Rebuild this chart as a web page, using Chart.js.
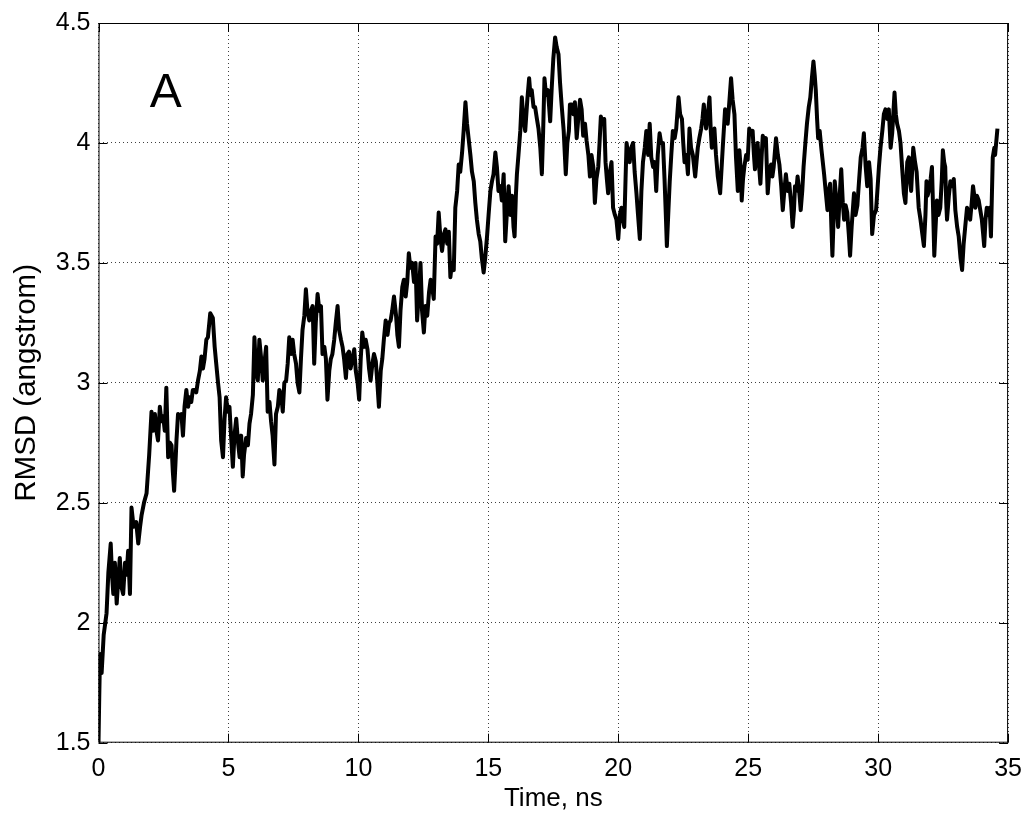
<!DOCTYPE html>
<html>
<head>
<meta charset="utf-8">
<script src="https://cdn.jsdelivr.net/npm/chart.js@4.4.1/dist/chart.umd.min.js"></script>
<style>
  html, body { margin: 0; padding: 0; background: #fff; }
  #wrap { width: 1033px; height: 816px; }
</style>
</head>
<body>
<div id="wrap"><canvas id="rmsdChart" width="1033" height="816"></canvas></div>
<script>
// RMSD trace, panel A

let timeNs = [
  0.00, 0.03, 0.06, 0.12, 0.20, 0.31, 0.38, 0.47, 0.52, 0.57,
  0.63, 0.70, 0.76, 0.82, 0.88, 0.95, 1.02, 1.08, 1.14, 1.21,
  1.27, 1.35, 1.45, 1.53, 1.60, 1.66, 1.75, 1.85, 1.95, 2.04,
  2.10, 2.17, 2.23, 2.29, 2.36, 2.42, 2.49, 2.55, 2.61, 2.68,
  2.75, 2.81, 2.86, 2.91, 2.96, 3.00, 3.06, 3.12, 3.19, 3.25,
  3.31, 3.38, 3.45, 3.50, 3.57, 3.63, 3.70, 3.76, 3.83, 3.90,
  3.96, 4.02, 4.08, 4.15, 4.21, 4.30, 4.40, 4.47, 4.53, 4.60,
  4.66, 4.72, 4.79, 4.85, 4.91, 4.97, 5.04, 5.10, 5.17, 5.23,
  5.30, 5.37, 5.43, 5.49, 5.55, 5.60, 5.68, 5.75, 5.81, 5.87,
  5.94, 6.00, 6.06, 6.13, 6.19, 6.26, 6.32, 6.38, 6.45, 6.51,
  6.58, 6.64, 6.70, 6.77, 6.83, 6.90, 6.96, 7.03, 7.09, 7.15,
  7.22, 7.28, 7.34, 7.41, 7.47, 7.53, 7.60, 7.66, 7.73, 7.79,
  7.85, 7.92, 7.98, 8.04, 8.11, 8.17, 8.24, 8.30, 8.36, 8.43,
  8.50, 8.56, 8.62, 8.69, 8.75, 8.81, 8.88, 8.94, 9.00, 9.07,
  9.13, 9.20, 9.26, 9.33, 9.39, 9.45, 9.52, 9.58, 9.64, 9.70,
  9.77, 9.84, 9.90, 9.97, 10.03, 10.09, 10.15, 10.22, 10.28, 10.35,
  10.41, 10.47, 10.54, 10.60, 10.67, 10.73, 10.79, 10.86, 10.92, 10.98,
  11.05, 11.12, 11.18, 11.24, 11.30, 11.37, 11.45, 11.50, 11.56, 11.62,
  11.69, 11.75, 11.82, 11.88, 11.94, 12.00, 12.07, 12.14, 12.20, 12.26,
  12.33, 12.39, 12.45, 12.52, 12.58, 12.65, 12.72, 12.78, 12.84, 12.90,
  12.97, 13.03, 13.09, 13.16, 13.22, 13.29, 13.35, 13.42, 13.48, 13.54,
  13.60, 13.67, 13.73, 13.80, 13.86, 13.92, 13.99, 14.05, 14.12, 14.18,
  14.24, 14.31, 14.37, 14.44, 14.50, 14.56, 14.63, 14.69, 14.75, 14.82,
  14.88, 14.95, 15.01, 15.08, 15.14, 15.20, 15.27, 15.33, 15.39, 15.46,
  15.52, 15.59, 15.65, 15.72, 15.78, 15.85, 15.91, 15.97, 16.01, 16.06,
  16.10, 16.16, 16.23, 16.29, 16.35, 16.42, 16.50, 16.57, 16.62, 16.67,
  16.74, 16.80, 16.87, 16.93, 17.00, 17.06, 17.11, 17.16, 17.22, 17.29,
  17.34, 17.38, 17.44, 17.50, 17.57, 17.63, 17.70, 17.76, 17.82, 17.90,
  17.98, 18.04, 18.10, 18.14, 18.21, 18.27, 18.33, 18.40, 18.46, 18.53,
  18.59, 18.65, 18.72, 18.78, 18.85, 18.91, 18.97, 19.04, 19.10, 19.16,
  19.23, 19.28, 19.33, 19.40, 19.46, 19.51, 19.56, 19.61, 19.68, 19.74,
  19.80, 19.87, 19.93, 20.00, 20.06, 20.12, 20.18, 20.23, 20.28, 20.32,
  20.38, 20.44, 20.50, 20.57, 20.63, 20.70, 20.76, 20.83, 20.89, 20.95,
  21.02, 21.08, 21.15, 21.21, 21.27, 21.34, 21.40, 21.46, 21.52, 21.59,
  21.65, 21.72, 21.78, 21.83, 21.87, 21.93, 21.98, 22.04, 22.10, 22.17,
  22.23, 22.32, 22.38, 22.45, 22.50, 22.55, 22.62, 22.68, 22.74, 22.80,
  22.87, 22.96, 23.01, 23.06, 23.12, 23.19, 23.24, 23.29, 23.38, 23.45,
  23.51, 23.56, 23.60, 23.70, 23.76, 23.83, 23.92, 24.02, 24.11, 24.21,
  24.28, 24.34, 24.40, 24.47, 24.53, 24.60, 24.66, 24.72, 24.75, 24.80,
  24.85, 24.92, 24.98, 25.04, 25.10, 25.17, 25.22, 25.26, 25.31, 25.36,
  25.42, 25.47, 25.52, 25.56, 25.62, 25.68, 25.75, 25.81, 25.88, 25.93,
  25.98, 26.07, 26.14, 26.20, 26.27, 26.33, 26.39, 26.45, 26.52, 26.58,
  26.65, 26.71, 26.76, 26.80, 26.85, 26.90, 26.96, 27.02, 27.08, 27.13,
  27.20, 27.26, 27.33, 27.39, 27.45, 27.51, 27.56, 27.60, 27.65, 27.69,
  27.75, 27.82, 27.87, 27.92, 27.98, 28.05, 28.10, 28.15, 28.20, 28.24,
  28.29, 28.33, 28.40, 28.46, 28.52, 28.58, 28.64, 28.69, 28.75, 28.81,
  28.87, 28.92, 28.98, 29.07, 29.13, 29.20, 29.27, 29.33, 29.40, 29.45,
  29.52, 29.58, 29.65, 29.71, 29.77, 29.84, 29.92, 29.97, 30.03, 30.09,
  30.16, 30.22, 30.28, 30.35, 30.41, 30.48, 30.54, 30.63, 30.68, 30.73,
  30.80, 30.86, 30.92, 30.99, 31.05, 31.12, 31.18, 31.22, 31.27, 31.35,
  31.42, 31.48, 31.56, 31.63, 31.70, 31.76, 31.82, 31.86, 31.90, 31.95,
  32.02, 32.07, 32.12, 32.16, 32.21, 32.26, 32.32, 32.39, 32.45, 32.49,
  32.54, 32.58, 32.62, 32.65, 32.72, 32.78, 32.85, 32.91, 32.97, 33.04,
  33.10, 33.17, 33.23, 33.29, 33.35, 33.42, 33.48, 33.54, 33.60, 33.65,
  33.70, 33.74, 33.80, 33.87, 33.93, 33.99, 34.04, 34.08, 34.13, 34.18,
  34.24, 34.29, 34.34, 34.41, 34.47, 34.50, 34.59
];

let rmsdA = [
  1.50, 1.70, 1.87, 1.79, 1.95, 2.04, 2.21, 2.33, 2.20, 2.12,
  2.25, 2.08, 2.18, 2.27, 2.15, 2.12, 2.25, 2.20, 2.30, 2.12,
  2.48, 2.40, 2.42, 2.33, 2.40, 2.45, 2.50, 2.54, 2.70, 2.88,
  2.80, 2.87, 2.80, 2.76, 2.90, 2.84, 2.86, 2.80, 2.98, 2.69,
  2.75, 2.74, 2.63, 2.55, 2.66, 2.76, 2.87, 2.86, 2.87, 2.78,
  2.90, 2.97, 2.90, 2.94, 2.92, 2.97, 2.97, 2.96, 3.01, 3.05,
  3.11, 3.06, 3.10, 3.18, 3.19, 3.29, 3.27, 3.15, 3.08, 3.00,
  2.94, 2.76, 2.69, 2.85, 2.94, 2.88, 2.90, 2.78, 2.65, 2.78,
  2.85, 2.75, 2.69, 2.78, 2.61, 2.70, 2.77, 2.74, 2.83, 2.87,
  2.95, 3.19, 3.05, 3.01, 3.18, 3.10, 3.01, 3.08, 3.15, 2.88,
  2.92, 2.84, 2.78, 2.66, 2.87, 2.90, 2.97, 2.95, 2.88, 3.00,
  3.01, 3.08, 3.19, 3.12, 3.18, 3.12, 3.08, 3.00, 2.96, 3.10,
  3.22, 3.28, 3.39, 3.30, 3.26, 3.30, 3.32, 3.08, 3.25, 3.37,
  3.30, 3.32, 3.12, 3.15, 3.10, 2.93, 3.05, 3.10, 3.12, 3.18,
  3.25, 3.32, 3.22, 3.18, 3.15, 3.10, 3.02, 3.12, 3.13, 3.06,
  3.10, 3.14, 3.05, 3.00, 2.93, 3.10, 3.21, 3.15, 3.18, 3.14,
  3.06, 3.01, 3.08, 3.12, 3.09, 3.00, 2.90, 3.05, 3.10, 3.18,
  3.26, 3.20, 3.25, 3.26, 3.30, 3.36, 3.28, 3.20, 3.15, 3.30,
  3.40, 3.43, 3.36, 3.42, 3.54, 3.48, 3.50, 3.42, 3.50, 3.26,
  3.38, 3.50, 3.30, 3.21, 3.32, 3.28, 3.38, 3.43, 3.40, 3.35,
  3.61, 3.58, 3.71, 3.60, 3.55, 3.62, 3.64, 3.58, 3.63, 3.44,
  3.50, 3.47, 3.73, 3.80, 3.91, 3.88, 3.96, 4.05, 4.17, 4.08,
  4.02, 3.95, 3.88, 3.84, 3.75, 3.68, 3.62, 3.59, 3.52, 3.46,
  3.52, 3.61, 3.70, 3.80, 3.84, 3.87, 3.96, 3.90, 3.80, 3.82,
  3.76, 3.87, 3.59, 3.72, 3.82, 3.70, 3.78, 3.65, 3.61, 3.78,
  3.87, 3.95, 4.05, 4.19, 4.10, 4.05, 4.18, 4.27, 4.20, 4.22,
  4.15, 4.15, 4.10, 4.06, 3.98, 3.87, 4.05, 4.27, 4.20, 4.22,
  4.15, 4.09, 4.23, 4.35, 4.44, 4.40, 4.37, 4.25, 4.16, 4.05,
  3.87, 4.00, 4.05, 4.16, 4.16, 4.12, 4.17, 4.02, 4.10, 4.18,
  4.14, 4.03, 4.08, 4.01, 3.95, 3.86, 3.95, 3.90, 3.75, 3.85,
  3.90, 4.00, 4.11, 4.08, 4.10, 3.92, 3.85, 3.79, 3.88, 3.92,
  3.73, 3.70, 3.68, 3.60, 3.70, 3.73, 3.68, 3.65, 3.85, 4.00,
  3.95, 3.92, 3.98, 4.00, 3.88, 3.79, 3.70, 3.60, 3.80, 3.92,
  3.98, 4.05, 3.95, 4.08, 3.94, 3.90, 3.92, 3.80, 3.95, 4.04,
  4.00, 4.00, 3.85, 3.70, 3.57, 3.72, 3.84, 3.95, 4.05, 4.02,
  4.06, 4.19, 4.12, 4.10, 4.00, 3.92, 3.95, 3.87, 4.06, 3.98,
  3.95, 3.86, 3.92, 3.98, 4.02, 4.06, 4.10, 4.16, 4.06, 4.12,
  4.19, 4.05, 3.98, 4.06, 3.95, 3.86, 3.79, 3.98, 4.14, 4.08,
  4.18, 4.27, 4.18, 4.12, 3.94, 3.80, 3.97, 3.88, 3.76, 3.85,
  3.90, 3.95, 3.93, 4.06, 4.04, 4.05, 3.95, 3.89, 3.95, 4.00,
  3.90, 3.83, 3.95, 4.03, 4.00, 4.02, 3.79, 3.88, 3.91, 3.86,
  3.90, 4.02, 3.95, 3.91, 3.82, 3.72, 3.80, 3.87, 3.80, 3.83,
  3.75, 3.65, 3.72, 3.82, 3.80, 3.86, 3.80, 3.72, 3.80, 3.90,
  4.00, 4.08, 4.15, 4.19, 4.27, 4.34, 4.28, 4.22, 4.10, 4.02,
  4.05, 3.97, 3.92, 3.87, 3.80, 3.72, 3.80, 3.83, 3.65, 3.53,
  3.70, 3.84, 3.75, 3.65, 3.78, 3.89, 3.75, 3.68, 3.74, 3.71,
  3.62, 3.53, 3.65, 3.79, 3.70, 3.74, 3.85, 3.94, 3.98, 4.04,
  3.90, 3.82, 3.92, 3.85, 3.62, 3.70, 3.72, 3.80, 3.90, 3.98,
  4.05, 4.12, 4.14, 4.10, 4.14, 3.98, 4.04, 4.21, 4.12, 4.08,
  4.05, 4.00, 3.90, 3.79, 3.75, 3.92, 3.94, 3.85, 3.80, 3.98,
  3.92, 3.88, 3.73, 3.68, 3.62, 3.57, 3.70, 3.84, 3.78, 3.80,
  3.85, 3.90, 3.70, 3.53, 3.65, 3.76, 3.70, 3.73, 3.85, 3.97,
  3.92, 3.90, 3.75, 3.68, 3.78, 3.84, 3.82, 3.85, 3.72, 3.65,
  3.61, 3.52, 3.47, 3.58, 3.65, 3.73, 3.70, 3.68, 3.75, 3.82,
  3.78, 3.73, 3.78, 3.76, 3.72, 3.68, 3.62, 3.57, 3.68, 3.73,
  3.70, 3.73, 3.61, 3.94, 3.98, 3.95, 4.06
];

let xTicks = [0, 5, 10, 15, 20, 25, 30, 35];
let yTicks = [1.5, 2, 2.5, 3, 3.5, 4, 4.5];
let xTitle = 'Time, ns';
let yTitle = 'RMSD (angstrom)';
let panelLabel = 'A';

const fontFace = "'Liberation Sans', Arial, Helvetica, sans-serif";

// matlab style box: frame all round + short inward ticks + panel letter
const matlabBox = {
    id: 'matlabBox',
    afterDraw(chart) {
        const {ctx, chartArea: a, scales} = chart;
        const tl = 9;
        ctx.save();
        ctx.strokeStyle = '#000';
        ctx.lineWidth = 1;
        ctx.strokeRect(a.left + 0.5, a.top + 0.5, a.right - a.left - 1, a.bottom - a.top - 1);
        ctx.beginPath();
        xTicks.forEach(v => {
            const px = Math.round(scales.x.getPixelForValue(v)) + 0.5;
            ctx.moveTo(px, a.bottom); ctx.lineTo(px, a.bottom - tl);
            ctx.moveTo(px, a.top); ctx.lineTo(px, a.top + tl);
        });
        yTicks.forEach(v => {
            const py = Math.round(scales.y.getPixelForValue(v)) + 0.5;
            ctx.moveTo(a.left, py); ctx.lineTo(a.left + tl, py);
            ctx.moveTo(a.right, py); ctx.lineTo(a.right - tl, py);
        });
        ctx.stroke();
        ctx.fillStyle = '#000';
        ctx.font = '48px ' + fontFace;
        ctx.textBaseline = 'alphabetic';
        ctx.fillText(panelLabel, scales.x.getPixelForValue(1.97), scales.y.getPixelForValue(4.15));
        ctx.restore();
    }
};

const ct1 = document.getElementById('rmsdChart').getContext('2d');
const rmsdChart = new Chart(ct1, {
    type: 'line',
    data: {
        datasets: [{
            label: 'RMSD',
            data: timeNs.map((t, i) => ({x: t, y: rmsdA[i]})),
            borderColor: '#000',
            borderWidth: 4,
            borderJoinStyle: 'round',
            pointRadius: 0,
            fill: false,
            tension: 0
        }]
    },
    options: {
        responsive: false,
        animation: false,
        devicePixelRatio: 1,
        layout: {
            padding: {left: 0, right: 21.5, top: 22.7, bottom: 0}
        },
        scales: {
            x: {
                type: 'linear',
                min: 0,
                max: 35,
                afterBuildTicks: s => { s.ticks = xTicks.map(v => ({value: v})); },
                afterFit: s => { s.height = 73.3; },
                grid: {
                    color: 'rgba(0,0,0,0.75)',
                    borderDash: [1, 3],
                    drawTicks: false
                },
                border: { display: false, dash: [1, 3] },
                ticks: {
                    color: '#000',
                    padding: 11,
                    font: { family: fontFace, size: 25 },
                    callback: v => String(v)
                },
                title: {
                    display: true,
                    text: xTitle,
                    color: '#000',
                    font: { family: fontFace, size: 26 },
                    padding: { top: 0, bottom: 2 }
                }
            },
            y: {
                type: 'linear',
                min: 1.5,
                max: 4.5,
                afterBuildTicks: s => { s.ticks = yTicks.map(v => ({value: v})); },
                afterFit: s => { s.width = 98.5; },
                grid: {
                    color: 'rgba(0,0,0,0.75)',
                    borderDash: [1, 3],
                    drawTicks: false
                },
                border: { display: false, dash: [1, 3] },
                ticks: {
                    color: '#000',
                    padding: 8,
                    font: { family: fontFace, size: 25 },
                    callback: v => String(v)
                },
                title: {
                    display: true,
                    text: yTitle,
                    color: '#000',
                    font: { family: fontFace, size: 29.5 },
                    padding: { top: 9, bottom: 0 }
                }
            }
        },
        plugins: {
            legend: { display: false },
            tooltip: { enabled: false }
        }
    },
    plugins: [matlabBox]
});
</script>
</body>
</html>
